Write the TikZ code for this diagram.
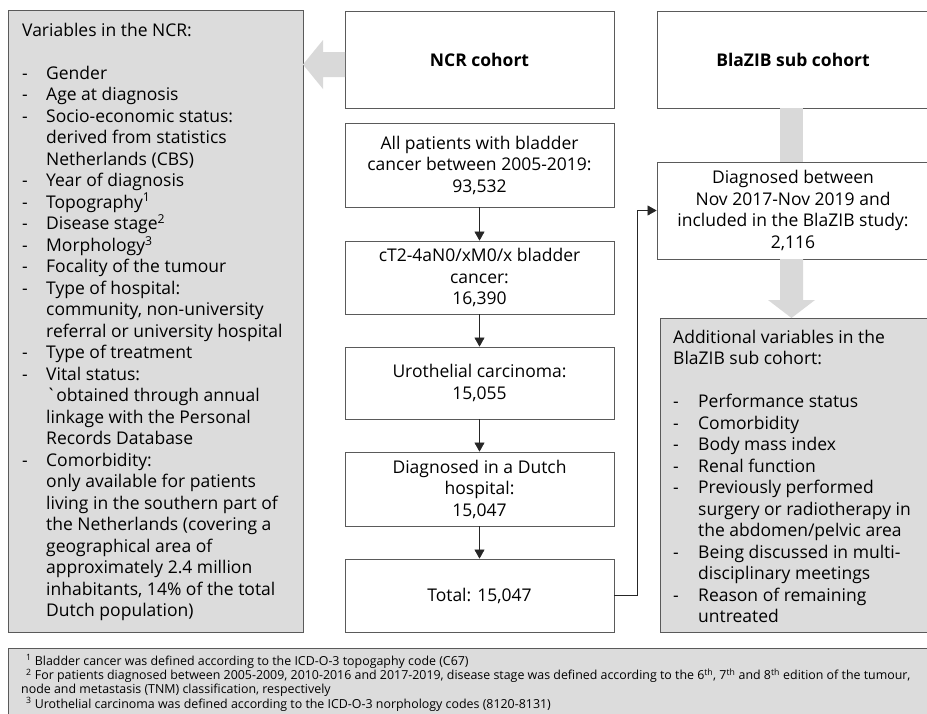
\documentclass[tikz,border=0pt]{standalone}
\usepackage{fontspec}
\setmainfont{Open Sans}
\usetikzlibrary{arrows.meta}
\definecolor{boxgray}{HTML}{DCDCDC}
\definecolor{arrowgray}{HTML}{D9D9D9}
\definecolor{linegray}{HTML}{5A5A5A}

\begin{document}
\begin{tikzpicture}[x=1pt,y=-1pt,
box/.style={draw=linegray, line width=0.8pt, fill=white, inner sep=0pt,
  align=center, font=\fontsize{17.5}{21.5}\selectfont},
greybox/.style={draw=linegray, line width=0.8pt, fill=boxgray, inner sep=0pt,
  anchor=north west},
listtext/.style={inner sep=0pt, anchor=north west, align=left,
  font=\fontsize{17.5}{21.5}\selectfont},
flow/.style={-{Triangle[length=9pt,width=10pt]}, draw=black!85, line width=0.6pt},
fatarrow/.style={fill=arrowgray, draw=none}
]
\useasboundingbox (0,0) rectangle (927,713);
\clip (0,0) rectangle (927,713);

% NCR side
\node[greybox, minimum width=295pt, minimum height=622pt] (ncrvars) at (8,10) {};
\node[listtext] (ncrlist) at (22,21) {%
\begin{tabular}{@{}p{24pt}@{}l@{}}
\multicolumn{2}{@{}l@{}}{Variables in the NCR:}\\
\\
- & Gender\\
- & Age at diagnosis\\
- & Socio-economic status:\\
  & derived from statistics\\
  & Netherlands (CBS)\\
- & Year of diagnosis\\
- & Topography\textsuperscript{1}\\
- & Disease stage\textsuperscript{2}\\
- & Morphology\textsuperscript{3}\\
- & Focality of the tumour\\
- & Type of hospital:\\
  & community, non-university\\
  & referral or university hospital\\
- & Type of treatment\\
- & Vital status:\\
  & {\addfontfeatures{Ligatures=TeXOff}\char96}obtained through annual\\
  & linkage with the Personal\\
  & Records Database\\
- & Comorbidity:\\
  & only available for patients\\
  & living in the southern part of\\
  & the Netherlands (covering a\\
  & geographical area of\\
  & approximately 2.4 million\\
  & inhabitants, 14\% of the total\\
  & Dutch population)
\end{tabular}};

\node[box, minimum width=269pt, minimum height=97pt] (ncr) at (479.5,59.5) {\textbf{NCR cohort}};
\node[box, minimum width=269pt, minimum height=84pt] (allpat) at (479.5,165) {All patients with bladder\\cancer between 2005-2019:\\93,532};
\node[box, minimum width=269pt, minimum height=73pt] (stage) at (479.5,277.5) {cT2-4aN0/xM0/x bladder\\cancer:\\16,390};
\node[box, minimum width=269pt, minimum height=72pt] (uro) at (479.5,383) {Urothelial carcinoma:\\15,055};
\node[box, minimum width=269pt, minimum height=74pt] (dutch) at (479.5,489) {Diagnosed in a Dutch\\hospital:\\15,047};
\node[box, minimum width=269pt, minimum height=73pt] (total) at (479.5,595.5) {Total: 15,047};

% BlaZIB side
\node[box, minimum width=272pt, minimum height=97pt] (sub) at (793,59.5) {\textbf{BlaZIB sub cohort}};
\node[box, minimum width=272pt, minimum height=97pt] (diag) at (793,210.5) {Diagnosed between\\Nov 2017-Nov 2019 and\\included in the BlaZIB study:\\2,116};
\node[greybox, minimum width=269pt, minimum height=314pt] (subvars) at (660,318) {};
\node[listtext] (sublist) at (673,328) {%
\begin{tabular}{@{}p{25pt}@{}l@{}}
\multicolumn{2}{@{}l@{}}{Additional variables in the}\\
\multicolumn{2}{@{}l@{}}{BlaZIB sub cohort:}\\
\\
- & Performance status\\
- & Comorbidity\\
- & Body mass index\\
- & Renal function\\
- & Previously performed\\
  & surgery or radiotherapy in\\
  & the abdomen/pelvic area\\
- & Being discussed in multi-\\
  & disciplinary meetings\\
- & Reason of remaining\\
  & untreated
\end{tabular}};

% footnotes
\node[greybox, minimum width=921pt, minimum height=80pt] (notes) at (8,648) {};
\node[listtext, font=\fontsize{12.4}{14.3}\selectfont] (notetext) at (21,654.5) {%
\hspace{5pt}\textsuperscript{1} Bladder cancer was defined according to the ICD-O-3 topogaphy code (C67)\\
\hspace{5pt}\textsuperscript{2} For patients diagnosed between 2005-2009, 2010-2016 and 2017-2019, disease stage was defined according to the 6\textsuperscript{th}, 7\textsuperscript{th} and 8\textsuperscript{th} edition of the tumour,\\
node and metastasis (TNM) classification, respectively\\
\hspace{5pt}\textsuperscript{3} Urothelial carcinoma was defined according to the ICD-O-3 norphology codes (8120-8131)};

% wide grey arrows
\fill[fatarrow] (345,52) -- (323,52) -- (323,40) -- (303,64.5) -- (323,89) -- (323,77) -- (345,77) -- cycle;
\fill[fatarrow] (780,108) rectangle (803,162);
\fill[fatarrow] (780,259) -- (780,300) -- (768,300) -- (791.5,318) -- (815,300) -- (803,300) -- (803,259) -- cycle;

\draw[flow] (allpat) -- (stage);
\draw[flow] (stage) -- (uro);
\draw[flow] (uro) -- (dutch);
\draw[flow] (dutch) -- (total);
\draw[flow] (total.east) -- ++(23,0) |- (diag.west);

\end{tikzpicture}
\end{document}
